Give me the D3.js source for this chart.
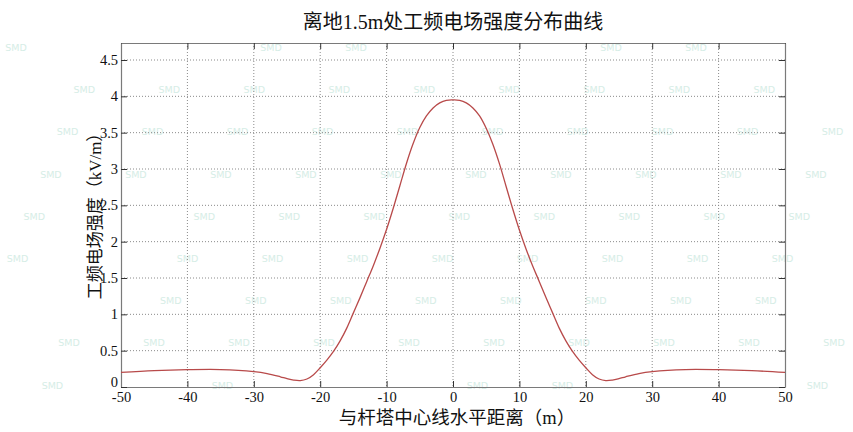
<!DOCTYPE html>
<html>
<head>
<meta charset="utf-8">
<script src="https://cdn.jsdelivr.net/npm/d3@7/dist/d3.min.js"></script>
<style>
  html, body { margin: 0; padding: 0; background: #fff; }
  svg { display: block; }
</style>
</head>
<body>
<svg id="chart" width="853" height="432"></svg>
<script>
const titleText = "离地1.5m处工频电场强度分布曲线";
const xLabel = "与杆塔中心线水平距离（m）";
const yLabel = "工频电场强度（kV/m）";
const xTicks = [-50, -40, -30, -20, -10, 0, 10, 20, 30, 40, 50];
const yTicks = [0, 0.5, 1, 1.5, 2, 2.5, 3, 3.5, 4, 4.5];
const distance = [-50,-45,-40,-35,-30,-28,-26,-25,-24,-23,-22,-21,-20,-19,-18,-17,-16,-15,-14,-13,-12,-11,-10,-9,-8,-7,-6,-5,-4,-3,-2,-1,0,
                  1,2,3,4,5,6,7,8,9,10,11,12,13,14,15,16,17,18,19,20,21,22,23,24,25,26,28,30,35,40,45,50];
const field = [0.200,0.225,0.238,0.240,0.212,0.185,0.140,0.115,0.095,0.088,0.110,0.170,0.265,0.370,0.490,0.635,0.810,1.020,1.230,1.450,1.670,1.910,2.170,2.460,2.770,3.080,3.350,3.570,3.730,3.840,3.910,3.945,3.950,
               3.945,3.910,3.840,3.730,3.560,3.340,3.070,2.760,2.450,2.160,1.900,1.665,1.450,1.230,1.020,0.810,0.635,0.490,0.370,0.265,0.170,0.110,0.088,0.095,0.115,0.140,0.185,0.212,0.240,0.238,0.225,0.200];

const svg = d3.select("#chart");
const L = 121, R = 785, T = 43, B = 387;
const x = d3.scaleLinear().domain([-50, 50]).range([L, R]);
const y = d3.scaleLinear().domain([0, 4.734]).range([B, T]);

// watermark layer (drawn first, filled later)
const wm = svg.append("g").attr("fill", "#d6ede6").attr("font-family", "'DejaVu Sans', sans-serif")
  .attr("font-size", 9.5).attr("text-anchor", "middle");

// grid
const grid = svg.append("g");
grid.selectAll("line.gx").data(xTicks.filter(d => d > -50 && d < 50)).join("line")
  .attr("x1", d => x(d)).attr("x2", d => x(d)).attr("y1", T).attr("y2", B)
  .attr("stroke", "#8a8a8a").attr("stroke-width", 1).attr("stroke-dasharray", "1,2");
grid.selectAll("line.gy").data(yTicks.filter(d => d > 0)).join("line")
  .attr("x1", L).attr("x2", R).attr("y1", d => y(d)).attr("y2", d => y(d))
  .attr("stroke", "#8a8a8a").attr("stroke-width", 1).attr("stroke-dasharray", "1,2");

// axes (MATLAB-like inward ticks on all sides)
const fontNum = "'Liberation Serif', 'Times New Roman', serif";
const axB = svg.append("g").attr("transform", `translate(0,${B})`)
  .call(d3.axisBottom(x).tickValues(xTicks).tickSizeInner(-6).tickSizeOuter(0).tickPadding(5).tickFormat(d => String(d)));
const axT = svg.append("g").attr("transform", `translate(0,${T})`)
  .call(d3.axisTop(x).tickValues(xTicks).tickSizeInner(-6).tickSizeOuter(0).tickFormat(""));
const axL = svg.append("g").attr("transform", `translate(${L},0)`)
  .call(d3.axisLeft(y).tickValues(yTicks).tickSizeInner(-6).tickSizeOuter(0).tickPadding(3).tickFormat(d => String(d)));
const axR = svg.append("g").attr("transform", `translate(${R},0)`)
  .call(d3.axisRight(y).tickValues(yTicks).tickSizeInner(-6).tickSizeOuter(0).tickFormat(""));
[axB, axT, axL, axR].forEach(a => {
  a.select(".domain").attr("stroke", "#7a7a7a").attr("stroke-width", 1.2);
  a.selectAll(".tick line").attr("stroke", "#333").attr("stroke-width", 1);
  a.selectAll("text").attr("font-family", fontNum).attr("font-size", 14.5).attr("fill", "#111");
});
// lift the "0" of the y axis slightly, as in the reference, so it sits above "-50"
axL.selectAll(".tick text").filter(d => d === 0).attr("dy", "-0.05em");

// curve
const line = d3.line().x((d, i) => x(distance[i])).y(d => y(d)).curve(d3.curveCatmullRom.alpha(0.5));
svg.append("path").datum(field).attr("d", line)
  .attr("fill", "none").attr("stroke", "#b84a4a").attr("stroke-width", 1.3);

// titles
const fontText = "'Liberation Serif', 'Noto Sans CJK SC', serif";
const labels = svg.append("g");
labels.append("text").attr("x", 453).attr("y", 29).attr("text-anchor", "middle")
  .attr("font-family", fontText).attr("font-size", 20).attr("fill", "#111").text(titleText);
labels.append("text").attr("x", 457).attr("y", 424).attr("text-anchor", "middle")
  .attr("font-family", fontText).attr("font-size", 18.5).attr("fill", "#111").text(xLabel);
labels.append("text").attr("transform", "translate(101,212) rotate(-90)").attr("text-anchor", "middle")
  .attr("font-family", fontText).attr("font-size", 17).attr("fill", "#111").text(yLabel);

// watermark pattern, skipping spots that would collide with real text or the page edge
const boxes = [];
svg.selectAll("text").each(function () {
  boxes.push(this.getBoundingClientRect());
});
for (let r = 0; r < 10; r++) {
  const yy = 51 + 42.2 * r;
  let x0 = (16 - 16.7 * r) % 85; if (x0 < 0) x0 += 85;
  for (let cx = x0; cx < 860; cx += 85) {
    const bx = { left: cx - 13, right: cx + 13, top: yy - 9, bottom: yy + 2 };
    if (bx.left < 1 || bx.right > 852 || bx.bottom > 431) continue;
    const hit = boxes.some(b => !(bx.right < b.left - 1 || bx.left > b.right + 1 || bx.bottom < b.top - 1 || bx.top > b.bottom + 1));
    if (hit) continue;
    wm.append("text").attr("x", cx).attr("y", yy).text("SMD");
  }
}
</script>
</body>
</html>
